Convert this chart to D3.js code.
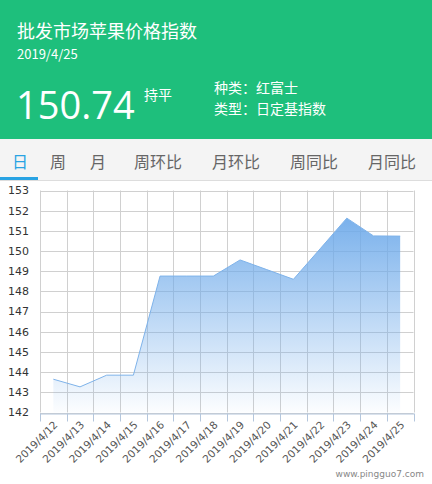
<!DOCTYPE html>
<html>
<head>
<meta charset="utf-8">
<script src="https://cdn.jsdelivr.net/npm/d3@7"></script>
<style>
  body { margin: 0; background: #fff; font-family: "Noto Sans CJK SC", "Noto Sans", sans-serif; }
  svg { display: block; }
</style>
</head>
<body>
<div id="chart"></div>
<script>
// data
var dates = ["2019/4/12", "2019/4/13", "2019/4/14", "2019/4/15", "2019/4/16", "2019/4/17", "2019/4/18",
  "2019/4/19", "2019/4/20", "2019/4/21", "2019/4/22", "2019/4/23", "2019/4/24", "2019/4/25"];
var prices = [143.65, 143.27, 143.85, 143.85, 148.76, 148.76, 148.76,
  149.56, 149.08, 148.6, 150.11, 151.63, 150.75, 150.74];
var yTicks = [142, 143, 144, 145, 146, 147, 148, 149, 150, 151, 152, 153];
var tabs = ["日", "周", "月", "周环比", "月环比", "周同比", "月同比"];
var tabX = [12, 50, 90, 134, 212, 290, 368];

var W = 432, H = 484;
var svg = d3.select("#chart").append("svg").attr("width", W).attr("height", H);

// header
svg.append("rect").attr("width", W).attr("height", 139).attr("fill", "#1ebf7c");
svg.append("text").attr("x", 17).attr("y", 38).attr("fill", "#fff")
  .style("font-size", "18px").text("批发市场苹果价格指数");
svg.append("text").attr("x", 17).attr("y", 59).attr("fill", "#fff")
  .style("font-size", "13px").text("2019/4/25");
svg.append("text").attr("x", 16).attr("y", 119).attr("fill", "#fff")
  .style("font-family", "'Open Sans', sans-serif").style("font-size", "38px").text("150.74");
svg.append("text").attr("x", 144).attr("y", 100).attr("fill", "#fff")
  .style("font-size", "14px").text("持平");
svg.append("text").attr("x", 214).attr("y", 93).attr("fill", "#fff")
  .style("font-size", "14px").text("种类：红富士");
svg.append("text").attr("x", 214).attr("y", 114).attr("fill", "#fff")
  .style("font-size", "14px").text("类型：日定基指数");

// tab bar
svg.append("rect").attr("y", 139).attr("width", W).attr("height", 41).attr("fill", "#f4f4f4");
svg.append("line").attr("x1", 0).attr("x2", W).attr("y1", 180.5).attr("y2", 180.5)
  .attr("stroke", "#ddd");
svg.append("rect").attr("x", 0).attr("y", 177).attr("width", 38).attr("height", 3).attr("fill", "#29a3e3");
svg.selectAll(".tab").data(tabs).enter().append("text")
  .attr("x", function (d, i) { return tabX[i]; })
  .attr("y", 168)
  .attr("fill", function (d, i) { return i == 0 ? "#29a3e3" : "#666"; })
  .style("font-size", "16px")
  .text(function (d) { return d; });

// plot
var margin = {left: 40, right: 18.5, top: 190.5, bottom: 412.5};
var x = d3.scaleBand().domain(dates).range([margin.left, W - margin.right]);
var y = d3.scaleLinear().domain([142, 153]).range([margin.bottom, margin.top]);

var defs = svg.append("defs");
var grad = defs.append("linearGradient").attr("id", "fillGrad")
  .attr("gradientUnits", "userSpaceOnUse")
  .attr("x1", 0).attr("x2", 0).attr("y1", y(152)).attr("y2", y(142));
grad.append("stop").attr("offset", "0%").attr("stop-color", "#6eaaea").attr("stop-opacity", 0.95);
grad.append("stop").attr("offset", "100%").attr("stop-color", "#6eaaea").attr("stop-opacity", 0.02);

// grid
svg.append("g").selectAll("line").data(yTicks).enter().append("line")
  .attr("x1", margin.left).attr("x2", W - margin.right)
  .attr("y1", function (d) { return Math.round(y(d)) + 0.5; })
  .attr("y2", function (d) { return Math.round(y(d)) + 0.5; })
  .attr("stroke", "#d0d0d0");
var edges = dates.map(function (d) { return x(d); }).concat([W - margin.right]);
svg.append("g").selectAll("line").data(edges).enter().append("line")
  .attr("x1", function (d) { return Math.round(d) + 0.5; })
  .attr("x2", function (d) { return Math.round(d) + 0.5; })
  .attr("y1", margin.top).attr("y2", margin.bottom)
  .attr("stroke", "#d0d0d0");

// area + line
var cx = function (d, i) { return x(dates[i]) + x.bandwidth() / 2; };
var area = d3.area().x(cx).y0(y(142)).y1(function (d) { return y(d); });
var line = d3.line().x(cx).y(function (d) { return y(d); });
svg.append("path").datum(prices).attr("d", area).attr("fill", "url(#fillGrad)");
svg.append("path").datum(prices).attr("d", line).attr("fill", "none")
  .attr("stroke", "#7fb3ea").attr("stroke-width", 1);

// y axis labels
svg.append("g").selectAll("text").data(yTicks).enter().append("text")
  .attr("x", 8).attr("y", function (d) { return y(d); })
  .attr("dy", "0.35em")
  .attr("fill", "#333")
  .style("font-family", "'DejaVu Sans', sans-serif")
  .style("font-size", "11px")
  .text(function (d) { return d; });

// x axis
var xAxis = svg.append("g").attr("transform", "translate(0," + (Math.round(y(142)) + 0.5) + ")")
  .call(d3.axisBottom(x).tickSize(0).tickFormat(""));
xAxis.select(".domain").attr("stroke", "#b4c6dc");
xAxis.selectAll(".edge").data(edges).enter().append("line")
  .attr("class", "edge")
  .attr("x1", function (d) { return Math.round(d) + 0.5; })
  .attr("x2", function (d) { return Math.round(d) + 0.5; })
  .attr("y1", 0).attr("y2", 8)
  .attr("stroke", "#b4c6dc");
xAxis.selectAll(".lbl").data(dates).enter().append("text")
  .attr("class", "lbl")
  .attr("text-anchor", "end")
  .attr("fill", "#555")
  .style("font-family", "'DejaVu Sans', sans-serif")
  .style("font-size", "10.5px")
  .attr("transform", function (d) {
    return "translate(" + (x(d) + x.bandwidth() / 2 + 5) + ",12) rotate(-45)";
  })
  .text(function (d) { return d; });

// watermark
svg.append("text").attr("x", 424).attr("y", 477).attr("text-anchor", "end")
  .attr("fill", "#888").style("font-family", "'DejaVu Sans', sans-serif")
  .style("font-size", "9px").text("www.pingguo7.com");
</script>
</body>
</html>
